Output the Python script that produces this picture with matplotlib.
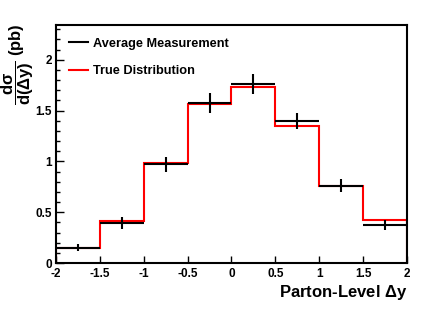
import numpy as np
import matplotlib
matplotlib.use('Agg')
import matplotlib.pyplot as plt
from matplotlib.ticker import MultipleLocator, FixedLocator
from matplotlib.lines import Line2D

plt.rcParams['font.family'] = ['Liberation Sans', 'DejaVu Sans']
plt.rcParams['font.weight'] = 'bold'
plt.rcParams['mathtext.fontset'] = 'custom'
plt.rcParams['mathtext.rm'] = 'Liberation Sans:bold'
plt.rcParams['mathtext.it'] = 'Liberation Sans:bold'
plt.rcParams['mathtext.bf'] = 'Liberation Sans:bold'
plt.rcParams['axes.unicode_minus'] = False

# bins in Delta y
edges = [-2.0, -1.5, -1.0, -0.5, 0.0, 0.5, 1.0, 1.5, 2.0]
centers = [-1.75, -1.25, -0.75, -0.25, 0.25, 0.75, 1.25, 1.75]
meas = [0.15, 0.39, 0.97, 1.575, 1.76, 1.40, 0.76, 0.373]
meas_err = [0.035, 0.06, 0.075, 0.10, 0.10, 0.08, 0.062, 0.05]
true_dist = [0.15, 0.415, 0.98, 1.565, 1.735, 1.35, 0.76, 0.42]

xticks = [-2, -1.5, -1, -0.5, 0, 0.5, 1, 1.5, 2]
xticklabels = ['-2', '-1.5', '-1', '-0.5', '0', '0.5', '1', '1.5', '2']
yticks = [0, 0.5, 1, 1.5, 2]
yticklabels = ['0', '0.5', '1', '1.5', '2']

fig = plt.figure(figsize=(4.29, 3.10), dpi=100)
ax = fig.add_axes([0.1305, 0.1516, 0.8182, 0.7674])

ax.stairs(true_dist, edges, color='red', lw=1.5, zorder=2)
ax.errorbar(centers, meas, xerr=0.25, yerr=meas_err, fmt='none', ecolor='black',
            elinewidth=1.5, capsize=0, zorder=3)

ax.set_xlim(-2, 2)
ax.set_ylim(0, 2.34)

ax.xaxis.set_major_locator(FixedLocator(xticks))
ax.set_xticklabels(xticklabels)
ax.yaxis.set_major_locator(FixedLocator(yticks))
ax.set_yticklabels(yticklabels)
ax.yaxis.set_minor_locator(MultipleLocator(0.1))
ax.tick_params(axis='both', which='both', direction='in', labelsize=8.5, width=1.0)
ax.tick_params(axis='y', which='major', length=6, pad=3)
ax.tick_params(axis='y', which='minor', length=3)
ax.tick_params(axis='x', which='major', length=5, pad=3.5)
for lab in ax.get_xticklabels() + ax.get_yticklabels():
    lab.set_fontweight('bold')

for s in ax.spines.values():
    s.set_linewidth(1.5)

handles = [Line2D([], [], color='black', lw=1.5), Line2D([], [], color='red', lw=1.5)]
ax.legend(handles, ['Average Measurement', 'True Distribution'], loc='upper left',
          bbox_to_anchor=(0.0, 1.0), frameon=False, prop={'size': 9.2, 'weight': 'bold'},
          handlelength=1.5, handletextpad=0.4, labelspacing=1.2, borderaxespad=0.6)

fig.text(0.9487, 0.056, r'Parton-Level $\Delta$y', ha='right', va='center',
         fontsize=12, fontweight='bold')
fig.text(0.042, 0.925, r'$\dfrac{d\sigma}{d(\Delta y)}$ (pb)', rotation=90,
         ha='center', va='top', fontsize=12, fontweight='bold')

fig.savefig('out.png', dpi=100)
